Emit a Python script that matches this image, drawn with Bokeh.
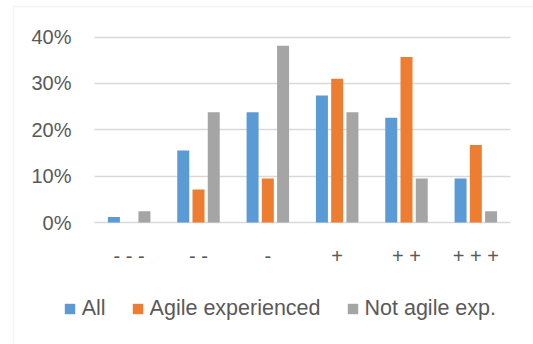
import numpy as np
from bokeh.plotting import figure
from bokeh.models import (Range1d, FixedTicker, PrintfTickFormatter, LinearAxis,
                          Grid, Legend, LegendItem, BoxAnnotation, ColumnDataSource)
from bokeh.transform import dodge
from bokeh.embed import file_html
from bokeh.resources import INLINE

# Answer scale categories and share of respondents (%) per group
categories = ["- - -", "- -", "-", "+", "+ +", "+ + +"]
all_resp = [1.2, 15.5, 23.8, 27.4, 22.6, 9.5]
agile_exp = [0.0, 7.1, 9.5, 31.0, 35.7, 16.7]
not_agile = [2.4, 23.8, 38.1, 23.8, 9.5, 2.4]
series_names = ["All", "Agile experienced", "Not agile exp."]
y_ticks = [0, 10, 20, 30, 40]

colors = ["#5B9BD5", "#ED7D31", "#A5A5A5"]
text_color = "#595959"
grid_color = "#D9D9D9"
font = "Liberation Sans"

centers = (np.arange(len(categories)) + 0.5).tolist()
source = ColumnDataSource(dict(x=centers, all=all_resp, agile=agile_exp, notagile=not_agile))

W, H = 533, 344
# the plotting frame spans the whole canvas; the category block sits at 94..510 px,
# the value axis runs 0..40 % between 222 px and 36.5 px from the top
px_x = 416 / len(categories)
px_y = (222 - 36.5) / 40
x_range = Range1d(-94 / px_x, len(categories) + (W - 510) / px_x)
y_range = Range1d(-(H - 222) / px_y, 40 + 36.5 / px_y)

p = figure(x_range=x_range, y_range=y_range, width=W, height=H,
           output_backend="svg", toolbar_location=None, title=None,
           x_axis_location=None, y_axis_location=None,
           min_border=0, min_border_left=0, min_border_right=0,
           min_border_top=0, min_border_bottom=0)
p.outline_line_color = None
p.border_fill_color = "white"
p.background_fill_color = "white"
# drop the default full-frame grids
p.center = [r for r in p.center if not isinstance(r, Grid)]

# horizontal gridlines limited to the category block
yticker = FixedTicker(ticks=y_ticks)
p.add_layout(Grid(dimension=1, ticker=yticker, cross_bounds=(0, len(categories)),
                  grid_line_color=grid_color, grid_line_width=1.5))

bar_w = 0.173
offsets = [-0.22, 0.0, 0.22]
cols = ["all", "agile", "notagile"]
renderers = []
for col, off, c in zip(cols, offsets, colors):
    r = p.vbar(x=dodge("x", off), top=col, width=bar_w,
               source=source, fill_color=c, line_color=None)
    renderers.append(r)

# axes pinned to the origin of the value/category block
def style_axis(ax):
    ax.axis_line_color = None
    ax.major_tick_line_color = None
    ax.minor_tick_line_color = None
    ax.major_tick_out = 0
    ax.major_tick_in = 0
    ax.major_label_text_color = text_color
    ax.major_label_text_font = font
    ax.major_label_text_font_size = "20px"

yaxis = LinearAxis(ticker=yticker, formatter=PrintfTickFormatter(format="%d%%"),
                   fixed_location=0, major_label_standoff=23)
style_axis(yaxis)
p.add_layout(yaxis, "left")

xaxis = LinearAxis(ticker=FixedTicker(ticks=centers),
                   major_label_overrides={c: lab for c, lab in zip(centers, categories)},
                   fixed_location=0, major_label_standoff=22)
style_axis(xaxis)
p.add_layout(xaxis, "below")

legend = Legend(items=[LegendItem(label=n, renderers=[r])
                       for n, r in zip(series_names, renderers)],
                location=(62.7, 23.5), orientation="horizontal",
                glyph_width=13, glyph_height=13, label_standoff=6, spacing=25,
                padding=0, margin=0, border_line_color=None,
                background_fill_alpha=0,
                label_text_font=font, label_text_font_size="21.5px",
                label_text_color=text_color)
p.add_layout(legend)

# chart area border (left and top edges fall inside the canvas)
p.add_layout(BoxAnnotation(left=x_range.start + 13 / px_x,
                           top=y_range.end - 6 / px_y,
                           right=x_range.end + 1, bottom=y_range.start - 1,
                           fill_alpha=0, line_color=grid_color, line_width=1.5,
                           propagate_hover=False))

open("out.html", "w").write(file_html(p, INLINE))
